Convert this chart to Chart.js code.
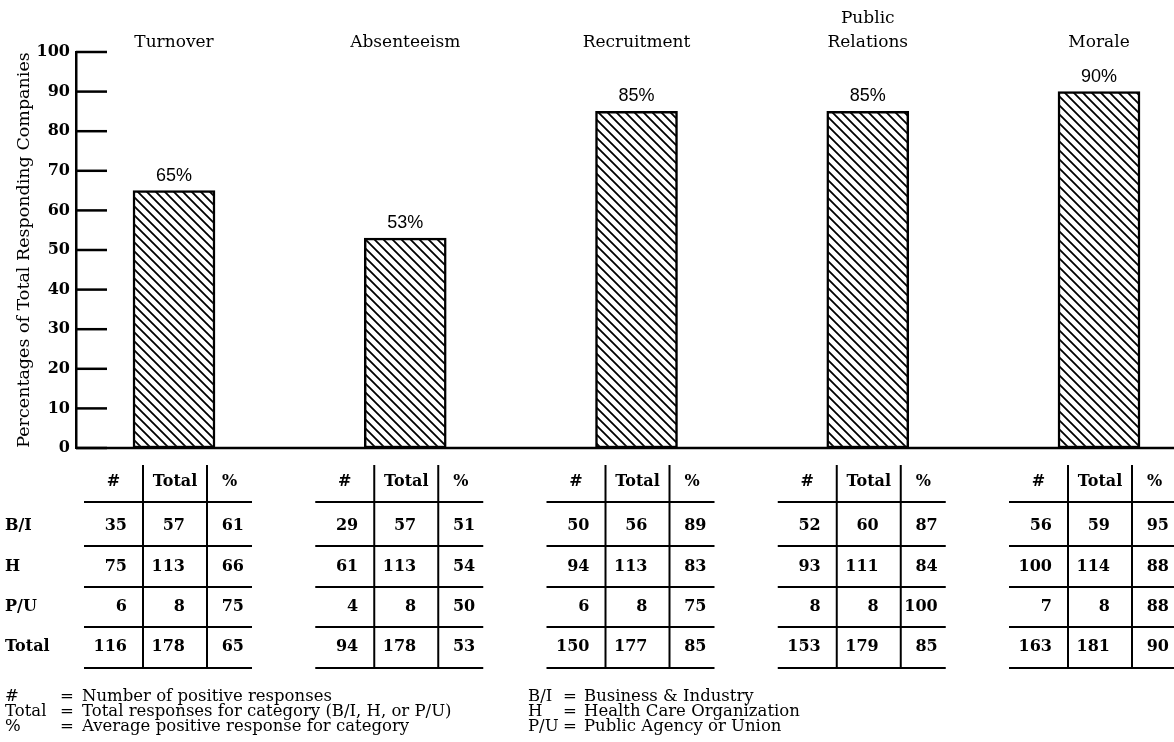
<!DOCTYPE html>
<html><head><meta charset="utf-8">
<script src="https://cdn.jsdelivr.net/npm/chart.js@4"></script>
<style>html,body{margin:0;padding:0;background:#fff}#wrap{width:1174px;height:742px}</style>
</head><body><div id="wrap"><canvas id="c" width="1174" height="742"></canvas></div>
<script>
// ---------- data ----------
const categories = [['Turnover'], ['Absenteeism'], ['Recruitment'], ['Public', 'Relations'], ['Morale']];
const percentages = [65, 53, 85, 85, 90];
const yTicks = [0, 10, 20, 30, 40, 50, 60, 70, 80, 90, 100];
const yTitle = 'Percentages of Total Responding Companies';

const groups = ['B/I', 'H', 'P/U', 'Total'];
const columnHeads = ['#', 'Total', '%'];

const turnoverPositive = [35, 75, 6, 116];
const turnoverTotal = [57, 113, 8, 178];
const turnoverPct = [61, 66, 75, 65];

const absenteeismPositive = [29, 61, 4, 94];
const absenteeismTotal = [57, 113, 8, 178];
const absenteeismPct = [51, 54, 50, 53];

const recruitmentPositive = [50, 94, 6, 150];
const recruitmentTotal = [56, 113, 8, 177];
const recruitmentPct = [89, 83, 75, 85];

const relationsPositive = [52, 93, 8, 153];
const relationsTotal = [60, 111, 8, 179];
const relationsPct = [87, 84, 100, 85];

const moralePositive = [56, 100, 7, 163];
const moraleTotal = [59, 114, 8, 181];
const moralePct = [95, 88, 88, 90];

const legendLeft = [['#', 'Number of positive responses'], ['Total', 'Total responses for category (B/I, H, or P/U)'], ['%', 'Average positive response for category']];
const legendRight = [['B/I', 'Business & Industry'], ['H', 'Health Care Organization'], ['P/U', 'Public Agency or Union']];

// tables built from the arrays above
const tables = [
  [turnoverPositive, turnoverTotal, turnoverPct],
  [absenteeismPositive, absenteeismTotal, absenteeismPct],
  [recruitmentPositive, recruitmentTotal, recruitmentPct],
  [relationsPositive, relationsTotal, relationsPct],
  [moralePositive, moraleTotal, moralePct]
];

// ---------- layout / style ----------
const SERIF = '"DejaVu Serif", serif';
const SANS = '"Liberation Sans", Arial, sans-serif';
const colW = [59, 64, 45];
const colPadRight = [16, 22, 8];
const headerY = 482;
const rowY = [526, 567, 607, 647];
const hLineY = [502, 546, 587, 627, 668];
const vTop = 465;

function makeHatch(ctx) {
  const s = 9;
  const c = document.createElement('canvas');
  c.width = s; c.height = s;
  const g = c.getContext('2d');
  g.fillStyle = '#fff'; g.fillRect(0, 0, s, s);
  g.strokeStyle = '#000'; g.lineWidth = 1.8;
  g.beginPath();
  g.moveTo(-2, -2); g.lineTo(s + 2, s + 2);
  g.moveTo(-2, s - 2); g.lineTo(2, s + 2);
  g.moveTo(s - 2, -2); g.lineTo(s + 2, 2);
  g.stroke();
  return ctx.createPattern(c, 'repeat');
}

const canvas = document.getElementById('c');
const hatch = makeHatch(canvas.getContext('2d'));

const decor = {
  id: 'decor',
  afterDraw(chart) {
    const ctx = chart.ctx;
    const xs = chart.scales.x, ys = chart.scales.y;
    const area = chart.chartArea;
    ctx.save();
    ctx.strokeStyle = '#000';
    ctx.fillStyle = '#000';
    // y tick marks (inside)
    ctx.lineWidth = 2.5;
    yTicks.forEach(t => {
      const y = ys.getPixelForValue(t);
      ctx.beginPath(); ctx.moveTo(area.left, y); ctx.lineTo(area.left + 31, y); ctx.stroke();
    });
    // baseline
    const y0 = ys.getPixelForValue(0);
    ctx.beginPath(); ctx.moveTo(area.left, y0); ctx.lineTo(area.right, y0); ctx.stroke();

    // category labels
    ctx.font = '17px ' + SERIF;
    ctx.textAlign = 'center'; ctx.textBaseline = 'middle';
    categories.forEach((lines, i) => {
      const x = xs.getPixelForValue(i);
      lines.forEach((ln, k) => {
        const y = 43 - (lines.length - 1 - k) * 24;
        ctx.fillText(ln, x, y);
      });
    });
    // value labels
    ctx.font = '18px ' + SANS;
    percentages.forEach((v, i) => {
      ctx.fillText(v + '%', xs.getPixelForValue(i), ys.getPixelForValue(v) - 15);
    });

    // tables
    ctx.font = 'bold 16px ' + SERIF;
    ctx.textAlign = 'left';
    groups.forEach((g, r) => ctx.fillText(g, 5, rowY[r]));
    tables.forEach((tbl, i) => {
      const cx = xs.getPixelForValue(i);
      const left = cx - 90;
      const edges = [left];
      colW.forEach(w => edges.push(edges[edges.length - 1] + w));
      ctx.lineWidth = 2;
      hLineY.forEach(y => { ctx.beginPath(); ctx.moveTo(edges[0], y); ctx.lineTo(edges[3], y); ctx.stroke(); });
      [edges[1], edges[2]].forEach(x => { ctx.beginPath(); ctx.moveTo(x, vTop); ctx.lineTo(x, hLineY[4]); ctx.stroke(); });
      ctx.textAlign = 'center';
      columnHeads.forEach((h, c) => ctx.fillText(h, (edges[c] + edges[c + 1]) / 2, headerY));
      ctx.textAlign = 'right';
      tbl.forEach((col, c) => {
        col.forEach((v, r) => ctx.fillText(String(v), edges[c + 1] - colPadRight[c], rowY[r]));
      });
      ctx.textAlign = 'left';
    });

    // legend
    ctx.font = '16.5px ' + SERIF;
    ctx.textAlign = 'left';
    legendLeft.forEach((it, k) => {
      const y = 697 + k * 15;
      ctx.fillText(it[0], 5, y); ctx.fillText('=', 60, y); ctx.fillText(it[1], 82, y);
    });
    legendRight.forEach((it, k) => {
      const y = 697 + k * 15;
      ctx.fillText(it[0], 528, y); ctx.fillText('=', 563, y); ctx.fillText(it[1], 584, y);
    });
    ctx.restore();
  }
};

new Chart(canvas, {
  type: 'bar',
  data: {
    datasets: [{
      data: percentages.map((v, i) => ({ x: i, y: v })),
      backgroundColor: hatch,
      borderColor: '#000',
      borderWidth: 2.5,
      borderSkipped: false,
      barThickness: 82
    }]
  },
  options: {
    responsive: false,
    animation: false,
    devicePixelRatio: 1,
    layout: { padding: { top: 52, bottom: 294, left: 0, right: 0 } },
    plugins: { legend: { display: false }, tooltip: { enabled: false } },
    scales: {
      x: { type: 'linear', min: -0.4238, max: 4.3243, offset: false, display: false },
      y: {
        min: 0, max: 100,
        afterFit(s) { s.width = 76; },
        afterBuildTicks(s) { s.ticks = yTicks.map(v => ({ value: v })); },
        grid: { display: false, drawTicks: false, tickLength: 0 },
        border: { display: true, color: '#000', width: 2.5 },
        ticks: { color: '#000', padding: 6, font: { family: SERIF, size: 16, weight: 'bold' } },
        title: { display: true, text: yTitle, color: '#000', padding: { top: 14, bottom: 0 }, font: { family: SERIF, size: 17.5 } }
      }
    }
  },
  plugins: [decor]
});
</script>
</body></html>
